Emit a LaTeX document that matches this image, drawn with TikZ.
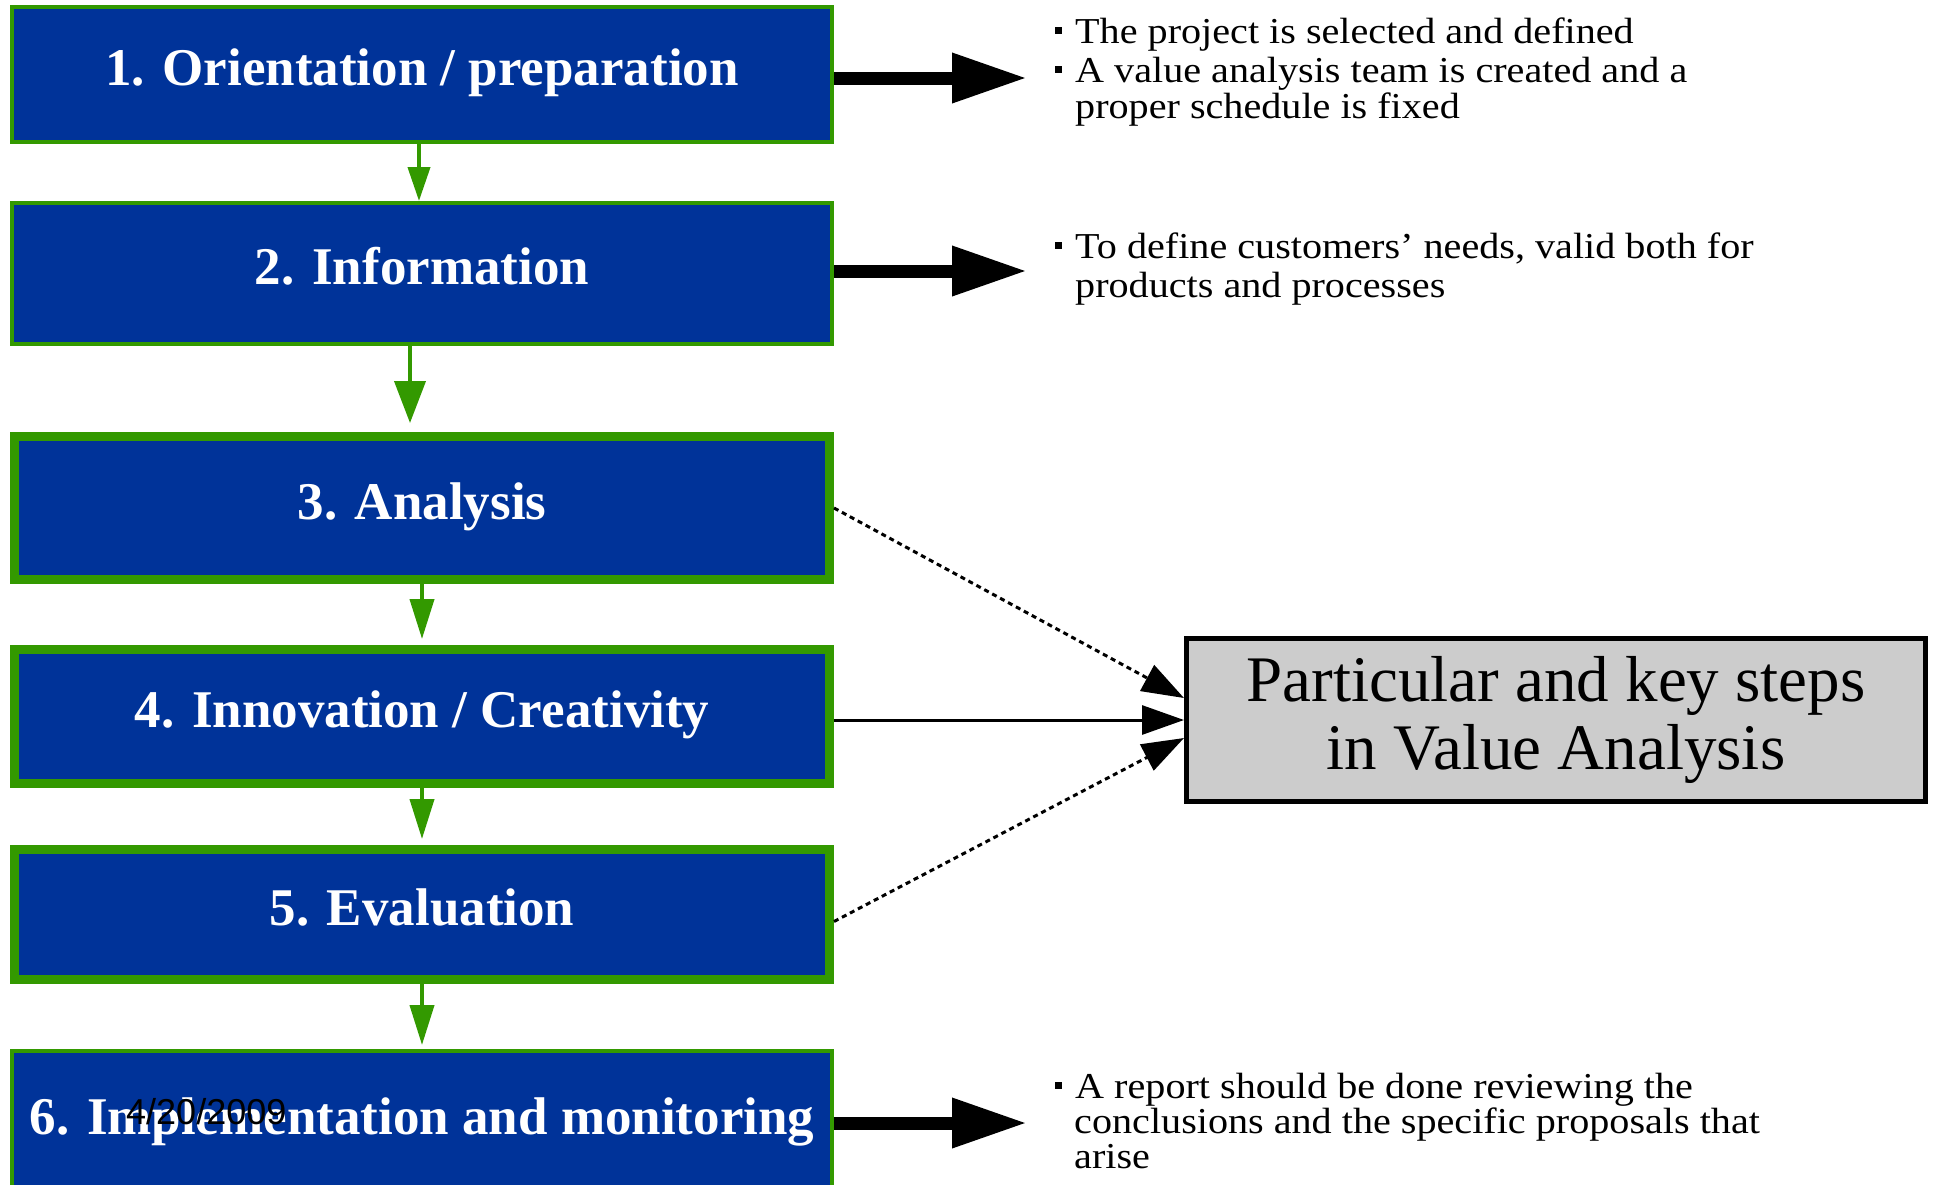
\documentclass[tikz,border=0pt]{standalone}
\usepackage{fontspec}
\setmainfont{Liberation Serif}
\newfontfamily\datefont{Liberation Sans}
\usetikzlibrary{arrows.meta}
\definecolor{vablue}{HTML}{003399}
\definecolor{vagreen}{HTML}{339900}
\definecolor{vagray}{HTML}{CCCCCC}
\newcommand\vabul{\makebox[20pt][l]{\raisebox{9pt}{\rule{7pt}{7pt}}}}
\newcommand\valine[1]{\scalebox{1.1}[1]{#1}}
\begin{document}
\begin{tikzpicture}[x=1pt,y=-1pt,
  stepbox/.style={draw=vagreen, fill=vablue, text=white, inner sep=0pt,
    font=\fontsize{53}{60}\selectfont\bfseries, text height=22pt, text depth=0pt},
  thinbox/.style={stepbox, line width=4pt, minimum width=820pt},
  thickbox/.style={stepbox, line width=9pt, minimum width=815pt},
  bigarrow/.style={line width=13pt, -{Triangle[length=75pt,width=47pt]}},
  garrow/.style={draw=vagreen, line width=4pt},
  thinarrow/.style={line width=3pt, -{Triangle[length=42pt,width=29pt]}},
  dotline/.style={dash pattern=on 5pt off 4pt},
  sidetext/.style={anchor=base west, inner sep=0pt, text height=23pt, text depth=6pt,
    font=\fontsize{36.5}{36}\selectfont},
  keybox/.style={draw=black, line width=5pt, fill=vagray, inner sep=0pt,
    minimum width=739pt, minimum height=163pt, align=center,
    font=\fontsize{65}{68}\selectfont}
]
\useasboundingbox (0,0) rectangle (1939,1184);
\clip (0,0) rectangle (1939,1184);
\fill[white] (0,0) rectangle (1939,1184);

% step boxes
\node[thinbox, minimum height=135pt] (box1) at (422,74.5) {1. Orientation / preparation};
\node[thinbox, minimum height=141pt] (box2) at (422,273.5) {2. Information};
\node[thickbox, minimum height=143pt] (box3) at (422,508) {3. Analysis};
\node[thickbox, minimum height=134pt] (box4) at (422,716.5) {4. Innovation / Creativity};
\node[thickbox, minimum height=130pt] (box5) at (422,914.5) {5. Evaluation};
\node[thinbox, minimum height=144pt] (box6) at (422,1123) {6. Implementation and monitoring};

% key box
\node[keybox] (key) at (1556,720) {Particular and key steps\\in Value Analysis};

% green step connectors
\draw[garrow, -{Triangle[length=34pt,width=22pt]}] ([xshift=-3pt]box1.south) -- ([xshift=-3pt]box2.north);
\draw[garrow, -{Triangle[length=42pt,width=31pt]}, shorten >=9pt] ([xshift=-12pt]box2.south) -- ([xshift=-12pt]box3.north);
\draw[garrow, -{Triangle[length=40pt,width=24pt]}, shorten >=6pt] (box3.south) -- (box4.north);
\draw[garrow, -{Triangle[length=40pt,width=24pt]}, shorten >=6pt] (box4.south) -- (box5.north);
\draw[garrow, -{Triangle[length=40pt,width=24pt]}, shorten >=4pt] (box5.south) -- (box6.north);

% big arrows to descriptions
\coordinate (t1) at (1027,78);
\coordinate (t2) at (1027,271);
\coordinate (t6) at (1027,1123);
\draw[bigarrow] (box1.east |- t1) -- (t1);
\draw[bigarrow] (box2.east |- t2) -- (t2);
\draw[bigarrow] (box6.east |- t6) -- (t6);

% connectors to key box
\draw[thinarrow, dotline] (box3.east) -- ([yshift=22pt]key.west);
\draw[thinarrow] (box4.east |- key.west) -- (key.west);
\draw[thinarrow, dotline] ([yshift=-7pt]box5.east) -- ([yshift=-18pt]key.west);

% description texts
\node[sidetext] (d1a) at (1055,43) {\vabul\valine{The project is selected and defined}};
\node[sidetext] (d1b) at (1055,82) {\vabul\valine{A value analysis team is created and a}};
\node[sidetext] (d1c) at (1075,118) {\valine{proper schedule is fixed}};
\node[sidetext] (d2a) at (1055,258) {\vabul\valine{To define customers’ needs, valid both for}};
\node[sidetext] (d2b) at (1075,297) {\valine{products and processes}};
\node[sidetext] (d3a) at (1055,1098) {\vabul\valine{A report should be done reviewing the}};
\node[sidetext] (d3b) at (1074,1133) {\valine{conclusions and the specific proposals that}};
\node[sidetext] (d3c) at (1074,1168) {\valine{arise}};

% date
\node[anchor=base west, inner sep=0pt, font=\datefont\fontsize{36}{36}\selectfont] (date) at (126,1124) {4/20/2009};
\end{tikzpicture}
\end{document}
